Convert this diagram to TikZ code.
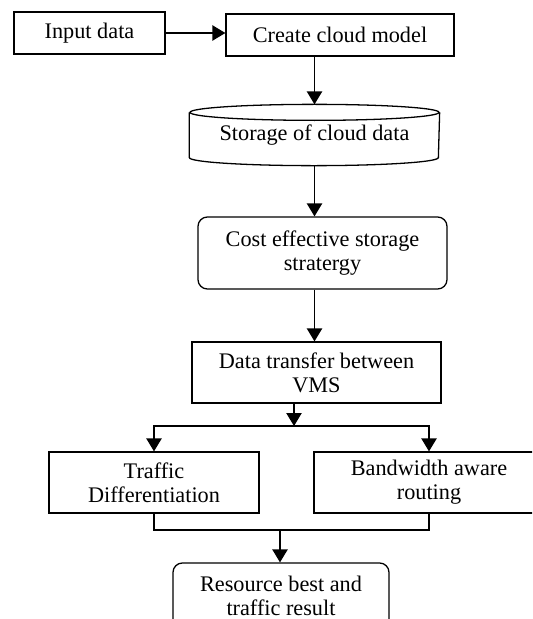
\documentclass[tikz,border=0pt]{standalone}
\usepackage{fontspec}
\setmainfont{Liberation Serif}
\usetikzlibrary{arrows.meta}
\begin{document}
\begin{tikzpicture}[x=0.03cm,y=-0.03cm,
    box/.style={draw,line width=1.1pt,inner sep=0pt,align=center,font=\fontsize{19}{20.5}\selectfont},
    roundbox/.style={box,rounded corners=8pt},
    flow/.style={line width=1.1pt,-{Triangle[length=11pt,width=13pt]}}]
\clip (0,0) rectangle (532,619);
% boxes
\node[box,minimum width=4.53cm,minimum height=1.26cm] (input) at (89.5,33) {Input data};
\node[box,minimum width=6.84cm,minimum height=1.26cm] (create) at (340,35) {Create cloud model};
\node[box,draw=none,minimum width=7.47cm,minimum height=1.8cm] (stor) at (314.5,135) {\raisebox{-3pt}{Storage of cloud data}};
\draw[line width=1.1pt] ([yshift=-0.24cm]stor.north) ellipse[x radius=3.735cm,y radius=0.24cm];
\draw[line width=1.1pt] ([yshift=-0.24cm]stor.north west) -- ([yshift=0.24cm]stor.south west)
    arc[start angle=180,end angle=360,x radius=3.735cm,y radius=0.24cm] -- ([yshift=-0.24cm]stor.north east);
\node[roundbox,minimum width=7.47cm,minimum height=2.16cm] (cost) at (322.5,253) {Cost effective storage\\stratergy};
\node[box,minimum width=7.47cm,minimum height=1.83cm] (data) at (316.5,372.5) {Data transfer between\\VMS};
\node[box,minimum width=6.3cm,minimum height=1.83cm] (traffic) at (154,482.5) {Traffic\\Differentiation};
\node[box,minimum width=6.9cm,minimum height=1.83cm] (band) at (429,482.5) {Bandwidth aware\\routing};
\node[roundbox,minimum width=6.48cm,minimum height=1.98cm] (res) at (281,596) {Resource best and\\traffic result};
% connectors
\coordinate (split) at (294,426);
\coordinate (merge) at (280,530);
\draw[flow] (input.east) -- (input.east -| create.west);
\draw[flow] (create.south -| stor.north) -- (stor.north);
\draw[flow] (stor.south) -- (stor.south |- cost.north);
\draw[flow] (stor.south |- cost.south) -- (stor.south |- data.north);
\draw[flow] (split |- data.south) -- (split);
\draw[flow] (split) -| (traffic.north);
\draw[flow] (split) -| (band.north);
\draw[line width=1.1pt] (traffic.south) |- (merge) -| (band.south);
\draw[flow] (merge) -- (merge |- res.north);
\end{tikzpicture}
\end{document}
